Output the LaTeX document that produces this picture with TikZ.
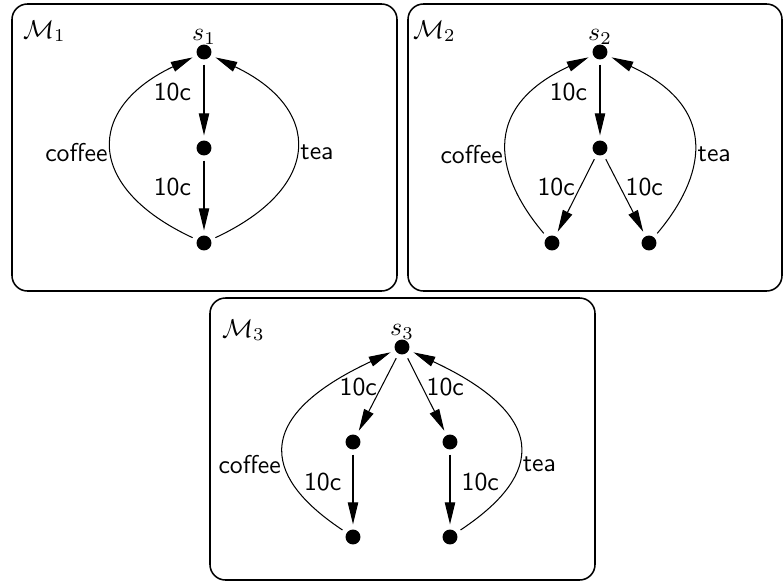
\documentclass[tikz,border=0pt]{standalone}
\usepackage{amsmath}
\usepackage{amssymb}
\usetikzlibrary{arrows.meta}

\begin{document}
\begin{tikzpicture}[x=0.388pt, y=-0.388pt,
    state/.style={circle, fill=black, inner sep=0pt, minimum size=5.8pt, outer sep=2pt},
    trans/.style={-{Triangle[length=8.5pt,width=4pt]}},
    frame/.style={rounded corners=6pt, line width=0.6pt},
    side/.style={inner sep=1.5pt, yshift=-2pt},
    every node/.append style={font=\sffamily}]
    \useasboundingbox (0,0) rectangle (783,583);

    % Machine M1
    \draw[frame] (12,4) rectangle (397,291);
    \node[anchor=base west] (m1) at (14,38) {$\mathcal{M}_1$};
    \node[state, label={[inner sep=0pt, label distance=-2pt]above:$s_1$}] (s1) at (204,52) {};
    \node[state] (a1) at (204,148) {};
    \node[state] (b1) at (204,243) {};
    \draw[trans] (s1) -- node[pos=0.39, left=1.5pt] {10c} (a1);
    \draw[trans] (a1) -- node[pos=0.38, left=1.5pt] {10c} (b1);
    \draw[trans] (b1) .. controls +(-120,-56) and +(-118,56) .. node[side, left] {coffee} (s1);
    \draw[trans] (b1) .. controls +(120,-56) and +(118,56) .. node[side, right] {tea} (s1);

    % Machine M2
    \draw[frame] (408,4) rectangle (782,291);
    \node[anchor=base west] (m2) at (404,38) {$\mathcal{M}_2$};
    \node[state, label={[inner sep=0pt, label distance=-2pt]above:$s_2$}] (s2) at (600,52) {};
    \node[state] (a2) at (600,148) {};
    \node[state] (b2) at (552,243) {};
    \node[state] (c2) at (649,243) {};
    \draw[trans] (s2) -- node[pos=0.39, left=1.5pt] {10c} (a2);
    \draw[trans] (a2) -- node[pos=0.38, left, inner sep=2pt] {10c} (b2);
    \draw[trans] (a2) -- node[pos=0.38, right, inner sep=2pt] {10c} (c2);
    \draw[trans] (b2) .. controls +(-46,-54) and +(-131,61) .. node[side, left] {coffee} (s2);
    \draw[trans] (c2) .. controls +(46,-54) and +(131,61) .. node[side, right] {tea} (s2);

    % Machine M3
    \draw[frame] (210,298) rectangle (595,580);
    \node[anchor=base west] (m3) at (213,337) {$\mathcal{M}_3$};
    \node[state, label={[inner sep=0pt, label distance=-2pt]above:$s_3$}] (s3) at (402,347) {};
    \node[state] (a3) at (353,442) {};
    \node[state] (b3) at (450,442) {};
    \node[state] (c3) at (353,537) {};
    \node[state] (d3) at (450,537) {};
    \draw[trans] (s3) -- node[pos=0.4, left, inner sep=1.5pt] {10c} (a3);
    \draw[trans] (s3) -- node[pos=0.4, right, inner sep=1.5pt] {10c} (b3);
    \draw[trans] (a3) -- node[pos=0.4, left=1pt] {10c} (c3);
    \draw[trans] (b3) -- node[pos=0.4, right=1pt] {10c} (d3);
    \draw[trans] (c3) .. controls +(-57,-38) and +(-182,85) .. node[side, left] {coffee} (s3);
    \draw[trans] (d3) .. controls +(57,-38) and +(182,85) .. node[side, right] {tea} (s3);
\end{tikzpicture}
\end{document}
